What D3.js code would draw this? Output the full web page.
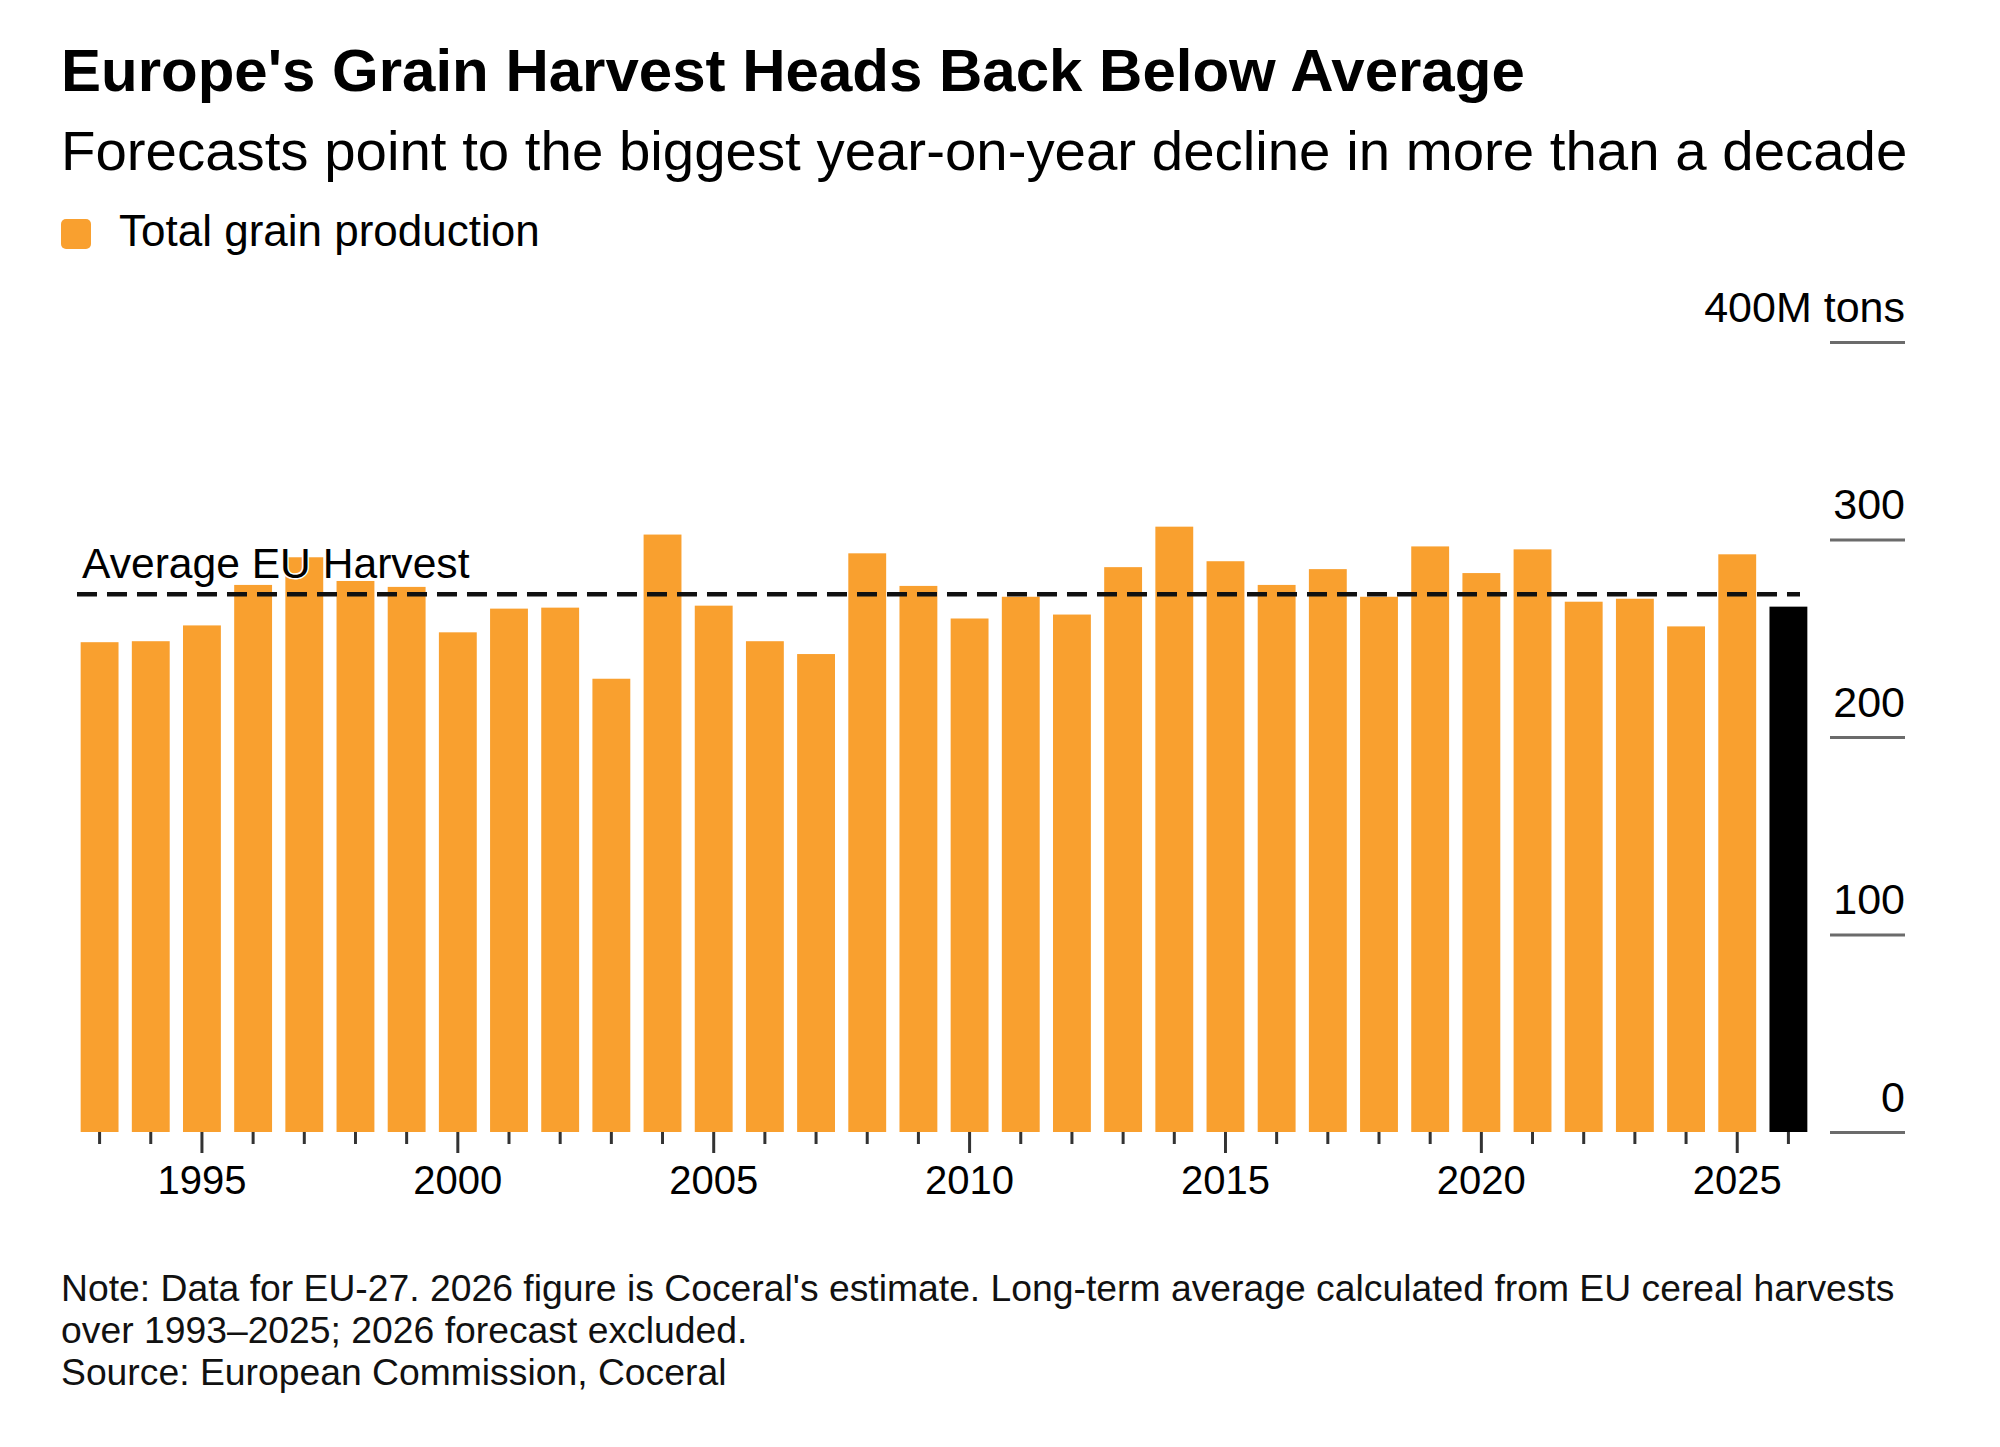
<!DOCTYPE html>
<html>
<head>
<meta charset="utf-8">
<script src="https://cdnjs.cloudflare.com/ajax/libs/d3/7.8.5/d3.min.js"></script>
<style>
    body { margin: 0; background: #fff; }
    svg { display: block; font-family: "Liberation Sans", Arial, Helvetica, sans-serif; }
</style>
</head>
<body>
<div id="chart"></div>
<script>
// EU cereal harvest, million tons
const years = d3.range(1993, 2027);
const production = [
    248, 248.5, 256.5, 277, 291, 279, 276, 253, 265, 265.5,
    229.5, 302.5, 266.5, 248.5, 242, 293, 276.5, 260, 271, 262,
    286, 306.5, 289, 277, 285, 271, 296.5, 283, 295, 268.5,
    270, 256, 292.5, 266
];
const forecastYear = 2026;
const yTicks = [0, 100, 200, 300, 400];
const xLabelYears = [1995, 2000, 2005, 2010, 2015, 2020, 2025];

const noteLines = [
    "Note: Data for EU-27. 2026 figure is Coceral's estimate. Long-term average calculated from EU cereal harvests",
    "over 1993\u20132025; 2026 forecast excluded.",
    "Source: European Commission, Coceral"
];

const data = years.map((y, i) => ({year: y, value: production[i]}));
// long-term average, forecast year left out
const average = d3.mean(data.filter(d => d.year !== forecastYear), d => d.value);

const orange = "#f9a02f";
const width = 2000, height = 1447;

const svg = d3.select("#chart").append("svg")
    .attr("width", width)
    .attr("height", height);

svg.append("rect").attr("width", width).attr("height", height).attr("fill", "#fff");

// headers
svg.append("text")
    .attr("x", 61).attr("y", 91)
    .attr("font-size", 60).attr("font-weight", "bold")
    .text("Europe's Grain Harvest Heads Back Below Average");

svg.append("text")
    .attr("x", 61).attr("y", 170)
    .attr("font-size", 56.4)
    .text("Forecasts point to the biggest year-on-year decline in more than a decade");

// legend
svg.append("rect")
    .attr("x", 61).attr("y", 219)
    .attr("width", 30).attr("height", 30)
    .attr("rx", 5)
    .attr("fill", orange);

svg.append("text")
    .attr("x", 119).attr("y", 246)
    .attr("font-size", 44)
    .text("Total grain production");

// scales
const x = d3.scaleBand()
    .domain(years)
    .range([74, 1814])
    .paddingInner(0.26)
    .paddingOuter(0.13);

const y = d3.scaleLinear()
    .domain([0, 400])
    .range([1132, 342]);

// y axis on the right, labels sit above short rules
const yAxis = d3.axisLeft(y)
    .tickValues(yTicks)
    .tickSize(75)
    .tickFormat(d => d === 400 ? "400M tons" : d);

const yGroup = svg.append("g")
    .attr("class", "y-axis")
    .attr("transform", "translate(1905,0)")
    .call(yAxis);

yGroup.select(".domain").remove();
yGroup.selectAll(".tick line")
    .attr("stroke", "#6b6b6b")
    .attr("stroke-width", 3);
yGroup.selectAll(".tick text")
    .attr("x", 0)
    .attr("dy", -21)
    .attr("fill", "#000")
    .attr("font-size", 43)
    .attr("font-family", null)
    .attr("text-anchor", "end");

// bars
svg.append("g")
    .selectAll("rect")
    .data(data)
    .enter().append("rect")
    .attr("x", d => x(d.year))
    .attr("y", d => y(d.value))
    .attr("width", x.bandwidth())
    .attr("height", d => y(0) - y(d.value))
    .attr("fill", d => d.year === forecastYear ? "#000" : orange);

// x axis: short ticks every year, longer ones with labels every 5 years
const xMinor = d3.axisBottom(x)
    .tickValues(years.filter(d => !xLabelYears.includes(d)))
    .tickSize(12)
    .tickFormat("");

const xMajor = d3.axisBottom(x)
    .tickValues(xLabelYears)
    .tickSize(21)
    .tickPadding(20);

const xMinorGroup = svg.append("g")
    .attr("transform", `translate(0,${y(0)})`)
    .call(xMinor);

const xMajorGroup = svg.append("g")
    .attr("transform", `translate(0,${y(0)})`)
    .call(xMajor);

[xMinorGroup, xMajorGroup].forEach(g => {
    g.select(".domain").remove();
    g.selectAll(".tick line")
        .attr("stroke", "#333")
        .attr("stroke-width", 3);
});

xMajorGroup.selectAll(".tick text")
    .attr("font-size", 40)
    .attr("font-family", null)
    .attr("fill", "#000")
    .attr("dy", null)
    .attr("y", 62);

// average line
svg.append("line")
    .attr("x1", 77)
    .attr("x2", 1800)
    .attr("y1", y(average))
    .attr("y2", y(average))
    .attr("stroke", "#111")
    .attr("stroke-width", 4.5)
    .attr("stroke-dasharray", "20,10");

svg.append("text")
    .attr("x", 82)
    .attr("y", y(average) - 16)
    .attr("font-size", 42.6)
    .attr("fill", "#000")
    .attr("stroke", "#fff")
    .attr("stroke-width", 3)
    .attr("paint-order", "stroke")
    .text("Average EU Harvest");

// footer
svg.append("g")
    .selectAll("text")
    .data(noteLines)
    .enter().append("text")
    .attr("x", 61)
    .attr("y", (d, i) => 1301 + i * 42)
    .attr("font-size", 37.3)
    .attr("fill", "#111")
    .text(d => d);
</script>
</body>
</html>
